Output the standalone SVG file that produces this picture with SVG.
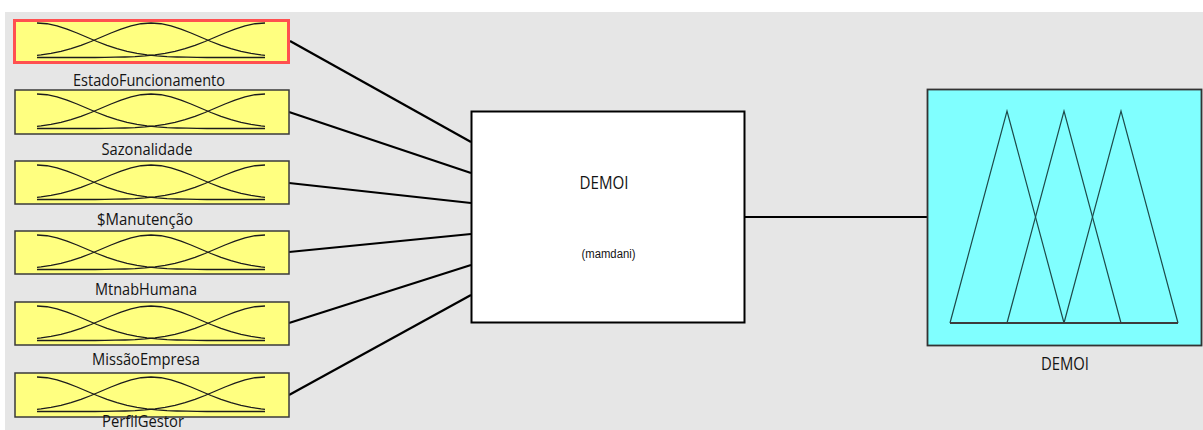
<svg xmlns="http://www.w3.org/2000/svg" width="1203" height="430" viewBox="0 0 1203 430">
  <style>
    .mfbox { fill: #ffff80; stroke: #3a3a3a; stroke-width: 1.5; }
    .mfcurve { fill: none; stroke: #1c1c1c; stroke-width: 1.3; stroke-linejoin: round; }
    .wire { fill: none; stroke: #000; stroke-width: 2.2; }
    .lbl { font-family: "Open Sans", "Noto Sans", sans-serif; font-size: 16px; fill: #141414; text-anchor: middle; }
    .tri { fill: none; stroke: #1e4a4a; stroke-width: 1.2; stroke-linejoin: miter; }
  </style>
  <defs>
    <!-- three gaussian membership functions, local box coordinates -->
    <g id="mf3">
      <polyline class="mfcurve" points="22,4 32,4.73 42,6.82 52,10.03 62,13.98 72,18.27 82,22.5 92,26.38 102,29.7 112,32.38 122,34.42 132,35.89 142,36.9 152,37.57 162,37.98 172,38.22 182,38.36 192,38.5 250,38.5"/>
      <polyline class="mfcurve" points="22,36.35 26,35.89 36,34.42 46,32.38 56,29.7 66,26.38 76,22.5 86,18.27 96,13.98 106,10.03 116,6.82 126,4.73 136,4 146,4.73 156,6.82 166,10.03 176,13.98 186,18.27 196,22.5 206,26.38 216,29.7 226,32.38 236,34.42 246,35.89 250,36.35"/>
      <polyline class="mfcurve" points="22,38.5 80,38.5 90,38.36 100,38.22 110,37.98 120,37.57 130,36.9 140,35.89 150,34.42 160,32.38 170,29.7 180,26.38 190,22.5 200,18.27 210,13.98 220,10.03 230,6.82 240,4.73 250,4"/>
    </g>
  </defs>

  <!-- canvas -->
  <rect x="0" y="0" width="1203" height="430" fill="#ffffff"/>
  <rect x="5" y="12" width="1198" height="418" fill="#e6e6e6"/>

  <!-- connectors -->
  <g id="connectors">
    <line class="wire" x1="290" y1="41" x2="471" y2="142"/>
    <line class="wire" x1="289" y1="112" x2="471" y2="173"/>
    <line class="wire" x1="289" y1="183" x2="471" y2="203"/>
    <line class="wire" x1="289" y1="252" x2="471" y2="234"/>
    <line class="wire" x1="289" y1="323" x2="471" y2="265"/>
    <line class="wire" x1="289" y1="395" x2="471" y2="295"/>
    <line class="wire" x1="745" y1="217" x2="927" y2="217"/>
  </g>

  <!-- input variables -->
  <g id="in-estado">
    <rect x="14.5" y="20.5" width="274" height="42" fill="#ffff80" stroke="#ff5050" stroke-width="3"/>
    <use href="#mf3" transform="translate(15,19)"/>
    <text class="lbl" x="149" y="86" textLength="152" lengthAdjust="spacingAndGlyphs">EstadoFuncionamento</text>
  </g>
  <g id="in-sazonalidade">
    <rect class="mfbox" x="15" y="90" width="274" height="44"/>
    <use href="#mf3" transform="translate(15,90)"/>
    <text class="lbl" x="147" y="155" textLength="91" lengthAdjust="spacingAndGlyphs">Sazonalidade</text>
  </g>
  <g id="in-manutencao">
    <rect class="mfbox" x="15" y="161" width="274" height="43"/>
    <use href="#mf3" transform="translate(15,161)"/>
    <text class="lbl" x="145" y="225" textLength="96" lengthAdjust="spacingAndGlyphs">$Manutenção</text>
  </g>
  <g id="in-mtnab">
    <rect class="mfbox" x="15" y="231" width="274" height="43"/>
    <use href="#mf3" transform="translate(15,231)"/>
    <text class="lbl" x="146" y="295" textLength="102" lengthAdjust="spacingAndGlyphs">MtnabHumana</text>
  </g>
  <g id="in-missao">
    <rect class="mfbox" x="15" y="302" width="274" height="43"/>
    <use href="#mf3" transform="translate(15,302)"/>
    <text class="lbl" x="146" y="365" textLength="108" lengthAdjust="spacingAndGlyphs">MissãoEmpresa</text>
  </g>
  <g id="in-perfil">
    <rect class="mfbox" x="15" y="373" width="274" height="44"/>
    <use href="#mf3" transform="translate(15,373)"/>
    <text class="lbl" x="143" y="427" font-size="13" textLength="82" lengthAdjust="spacingAndGlyphs">PerfilGestor</text>
  </g>

  <!-- inference system -->
  <g id="fis">
    <rect x="471.5" y="111.5" width="273" height="211" fill="#ffffff" stroke="#000" stroke-width="2"/>
    <text x="604" y="189" font-family="Open Sans, Noto Sans, sans-serif" font-size="18" fill="#141414" text-anchor="middle" textLength="49" lengthAdjust="spacingAndGlyphs">DEMOI</text>
    <text x="608.5" y="258" font-family="Liberation Sans, Arial, sans-serif" font-size="12" fill="#141414" text-anchor="middle" textLength="54" lengthAdjust="spacingAndGlyphs">(mamdani)</text>
  </g>

  <!-- output variable -->
  <g id="out-demoi">
    <rect x="927.5" y="89.5" width="274" height="256" fill="#80ffff" stroke="#333" stroke-width="1.8"/>
    <polyline class="tri" points="950,323 1007,111 1064,323"/>
    <polyline class="tri" points="1007,323 1064,111 1121,323"/>
    <polyline class="tri" points="1064,323 1121,111 1178,323"/>
    <line x1="950" y1="323" x2="1178" y2="323" stroke="#3c3c3c" stroke-width="2"/>
    <text x="1065" y="370" font-family="Open Sans, Noto Sans, sans-serif" font-size="18" fill="#141414" text-anchor="middle" textLength="48" lengthAdjust="spacingAndGlyphs">DEMOI</text>
  </g>
</svg>
